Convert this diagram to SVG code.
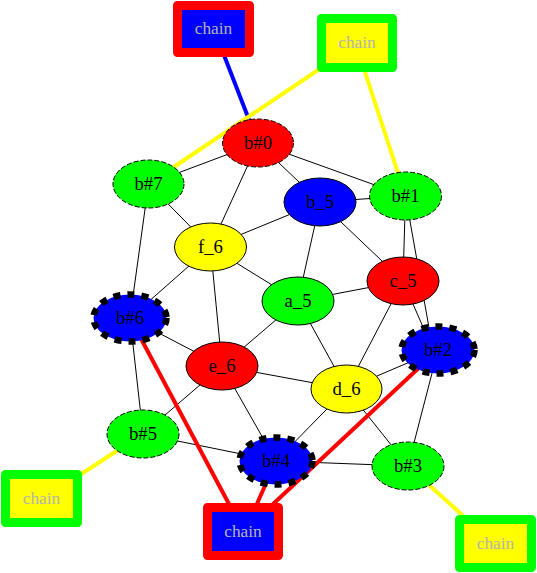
<svg xmlns="http://www.w3.org/2000/svg" width="537" height="573" viewBox="0 0 537 573">
<style>
.e{stroke:#000;stroke-width:1;fill:none}
.c{stroke-width:4;fill:none}
.n{stroke:#000;stroke-width:1}
.d{stroke-dasharray:5,2}
.b{stroke-width:6.5;stroke-dasharray:7,7}
.t{font-family:"Liberation Serif","Times New Roman",serif;font-size:18.67px;text-anchor:middle;fill:#000}
.ch{stroke-width:9;stroke-linejoin:round}
.ct{font-family:"Liberation Serif","Times New Roman",serif;font-size:17.3px;text-anchor:middle;fill:#b4b4b4}
</style>
<rect width="537" height="573" fill="#fff"/>
<g id="connectors">
<line class="e" x1="258" y1="143" x2="148.5" y2="184"/>
<line class="e" x1="258" y1="143" x2="210.5" y2="247"/>
<line class="e" x1="258" y1="143" x2="320" y2="202"/>
<line class="e" x1="258" y1="143" x2="405.5" y2="196"/>
<line class="e" x1="148.5" y1="184" x2="210.5" y2="247"/>
<line class="e" x1="148.5" y1="184" x2="130" y2="318"/>
<line class="e" x1="210.5" y1="247" x2="320" y2="202"/>
<line class="e" x1="210.5" y1="247" x2="130" y2="318"/>
<line class="e" x1="210.5" y1="247" x2="298" y2="301"/>
<line class="e" x1="210.5" y1="247" x2="222" y2="366"/>
<line class="e" x1="320" y1="202" x2="405.5" y2="196"/>
<line class="e" x1="320" y1="202" x2="298" y2="301"/>
<line class="e" x1="320" y1="202" x2="403" y2="281"/>
<line class="e" x1="405.5" y1="196" x2="403" y2="281"/>
<line class="e" x1="405.5" y1="196" x2="433" y2="350"/>
<line class="e" x1="403" y1="281" x2="298" y2="301"/>
<line class="e" x1="403" y1="281" x2="433" y2="350"/>
<line class="e" x1="403" y1="281" x2="346.5" y2="389"/>
<line class="e" x1="298" y1="301" x2="222" y2="366"/>
<line class="e" x1="298" y1="301" x2="346.5" y2="389"/>
<line class="e" x1="130" y1="318" x2="222" y2="366"/>
<line class="e" x1="130" y1="318" x2="143" y2="434"/>
<line class="e" x1="222" y1="366" x2="143" y2="434"/>
<line class="e" x1="222" y1="366" x2="276" y2="461"/>
<line class="e" x1="222" y1="366" x2="346.5" y2="389"/>
<line class="e" x1="346.5" y1="389" x2="438" y2="350"/>
<line class="e" x1="346.5" y1="389" x2="276" y2="461"/>
<line class="e" x1="346.5" y1="389" x2="408" y2="466"/>
<line class="e" x1="143" y1="434" x2="276" y2="461"/>
<line class="e" x1="276" y1="461" x2="408" y2="466"/>
<line class="e" x1="438" y1="350" x2="408" y2="466"/>
<line class="c" stroke="#0000ff" x1="222" y1="50" x2="258" y2="143"/>
<line class="c" stroke="#ffff00" x1="324" y1="66" x2="148.5" y2="184"/>
<line class="c" stroke="#ffff00" x1="363" y1="66" x2="405.5" y2="196"/>
<line class="c" stroke="#ffff00" x1="75" y1="478" x2="143" y2="434"/>
<line class="c" stroke="#ffff00" x1="470" y1="522" x2="408" y2="466"/>
<line class="c" stroke="#ff0000" x1="230" y1="506" x2="130" y2="318"/>
<line class="c" stroke="#ff0000" x1="256" y1="506" x2="276" y2="461"/>
<line class="c" stroke="#ff0000" x1="271" y1="506" x2="438" y2="350"/>
</g>
<g id="n_b0"><ellipse class="n d" cx="258" cy="143" rx="35.5" ry="24" fill="#ff0000"/><text class="t" x="258" y="149">b#0</text></g>
<g id="n_b7"><ellipse class="n d" cx="148.5" cy="184" rx="35.5" ry="24" fill="#00ff00"/><text class="t" x="148.5" y="190">b#7</text></g>
<g id="n_f6"><ellipse class="n" cx="210.5" cy="247" rx="36" ry="24" fill="#ffff00"/><text class="t" x="210.5" y="253">f_6</text></g>
<g id="n_b_5"><ellipse class="n" cx="320" cy="202" rx="36" ry="24" fill="#0000ff"/><text class="t" x="320" y="208">b_5</text></g>
<g id="n_b1"><ellipse class="n d" cx="405.5" cy="196" rx="36" ry="24" fill="#00ff00"/><text class="t" x="405.5" y="202">b#1</text></g>
<g id="n_c5"><ellipse class="n" cx="403" cy="281" rx="36" ry="24" fill="#ff0000"/><text class="t" x="403" y="287">c_5</text></g>
<g id="n_a5"><ellipse class="n" cx="298" cy="301" rx="36" ry="24" fill="#00ff00"/><text class="t" x="298" y="307">a_5</text></g>
<g id="n_b6"><ellipse class="n b" cx="130" cy="318" rx="36.5" ry="23.5" fill="#0000ff"/><text class="t" x="130" y="324">b#6</text></g>
<g id="n_e6"><ellipse class="n" cx="222" cy="366" rx="36" ry="24" fill="#ff0000"/><text class="t" x="222" y="372">e_6</text></g>
<g id="n_b2"><ellipse class="n b" cx="438" cy="350" rx="36.5" ry="23.5" fill="#0000ff"/><text class="t" x="438" y="356">b#2</text></g>
<g id="n_d6"><ellipse class="n" cx="346.5" cy="389" rx="35.5" ry="24" fill="#ffff00"/><text class="t" x="346.5" y="395">d_6</text></g>
<g id="n_b5"><ellipse class="n d" cx="143" cy="434" rx="36" ry="24" fill="#00ff00"/><text class="t" x="143" y="440">b#5</text></g>
<g id="n_b4"><ellipse class="n b" cx="276" cy="461" rx="36.5" ry="23.5" fill="#0000ff"/><text class="t" x="276" y="467">b#4</text></g>
<g id="n_b3"><ellipse class="n d" cx="408" cy="466" rx="36" ry="24" fill="#00ff00"/><text class="t" x="408" y="472">b#3</text></g>
<g id="chain_top"><rect class="ch" x="177.5" y="5.5" width="72" height="47" fill="#0000ff" stroke="#ff0000"/><text class="ct" x="213.5" y="34">chain</text></g>
<g id="chain_topright"><rect class="ch" x="321.5" y="18.5" width="71" height="49" fill="#ffff00" stroke="#00ff00"/><text class="ct" x="357" y="48">chain</text></g>
<g id="chain_left"><rect class="ch" x="5.5" y="474.5" width="72" height="48" fill="#ffff00" stroke="#00ff00"/><text class="ct" x="41.5" y="504">chain</text></g>
<g id="chain_bottom"><rect class="ch" x="207.5" y="507.5" width="71" height="48" fill="#0000ff" stroke="#ff0000"/><text class="ct" x="243" y="537">chain</text></g>
<g id="chain_right"><rect class="ch" x="459.5" y="519.5" width="72" height="48" fill="#ffff00" stroke="#00ff00"/><text class="ct" x="495.5" y="549">chain</text></g>
</svg>
